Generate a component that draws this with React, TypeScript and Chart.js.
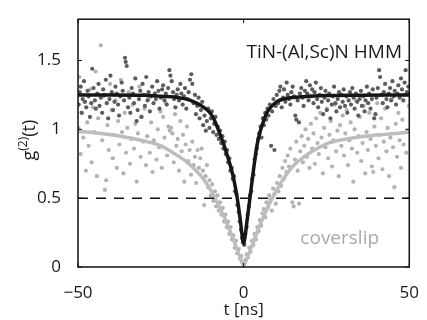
import React, { useEffect, useRef } from "react";
import { Chart, registerables } from "chart.js";

Chart.register(...registerables);

const xTickValues = [-50, 0, 50];
const yTickValues = [0, 0.5, 1, 1.5];
const dashLevel = 0.5;

const hmmLabel = "TiN-(Al,Sc)N HMM";
const slipLabel = "coverslip";
const xTitle = "t [ns]";
const yTitleParts = ["g", "(2)", "(t)"];

// dark grey measurement points (TiN-(Al,Sc)N HMM)
const tinPoints: [number, number][] = [
  [-49.8,1.18],[-49.5,1.27],[-49.2,1.31],[-48.9,1.12],[-48.6,1.22],[-48.2,1.35],[-47.9,1.20],[-47.5,1.16],[-47.1,1.28],[-46.8,1.24],[-46.4,1.09],[-46.0,1.19],[-45.7,1.44],[-45.3,1.30],[-44.9,1.21],[-44.6,1.15],[-44.2,1.26],[-43.8,1.33],[-43.5,1.17],[-43.1,1.23],[-42.7,1.12],[-42.4,1.29],[-42.0,1.25],[-41.6,1.36],[-41.3,1.19],[-40.9,1.08],[-40.5,1.22],[-40.2,1.39],[-39.8,1.27],
  [-39.4,1.14],[-39.0,1.20],[-38.7,1.31],[-38.3,1.26],[-37.9,1.18],[-37.6,1.10],[-37.2,1.24],[-36.8,1.34],[-36.5,1.28],[-36.1,1.21],[-35.8,1.52],[-35.6,1.49],[-35.3,1.46],[-34.9,1.16],[-34.5,1.23],[-34.2,1.12],[-33.8,1.30],[-33.4,1.26],[-33.1,1.19],[-32.7,1.37],[-32.3,1.06],[-32.0,1.14],[-31.6,1.22],[-31.2,1.28],[-30.9,1.09],[-30.5,1.33],[-30.1,1.25],
  [-29.8,1.17],[-29.4,1.38],[-29.0,1.21],[-28.7,1.27],[-28.3,1.13],[-27.9,1.24],[-27.6,1.31],[-27.2,1.19],[-26.8,1.26],[-26.5,1.22],[-26.1,1.35],[-25.7,1.28],[-25.4,1.15],[-25.0,1.23],[-24.6,1.29],[-24.3,1.32],[-23.9,1.21],[-23.5,1.26],[-23.2,1.18],[-22.8,1.30],[-22.4,1.43],[-22.1,1.39],[-21.7,1.35],[-21.3,1.27],[-21.0,1.22],[-20.6,1.16],[-20.2,1.25],
  [-19.9,1.29],[-19.5,1.21],[-19.1,1.33],[-18.8,1.26],[-18.4,1.18],[-18.0,1.24],[-17.7,1.30],[-17.3,1.15],[-16.9,1.22],[-16.6,1.27],[-16.2,1.36],[-15.8,1.40],[-15.5,1.33],[-15.1,1.19],[-14.7,1.25],[-14.4,1.11],[-14.0,1.17],[-13.6,1.23],[-13.3,1.08],[-12.9,1.14],[-12.5,1.20],[-12.2,1.03],[-11.8,1.10],[-11.4,0.99],[-11.1,1.06],[-10.7,1.15],[-10.3,1.01],
  [-9.9,1.08],[-9.6,1.13],[-9.2,0.98],[-8.9,1.04],[-8.5,1.09],[-8.2,0.96],[-7.8,1.02],[-7.5,0.93],[-7.1,0.99],[-6.8,0.90],[-6.4,0.95],[-6.1,0.86],[-5.7,0.91],[-5.4,0.82],[-5.0,0.85],[-4.7,0.76],[-4.3,0.79],[-4.0,0.70],[-3.6,0.72],[-3.3,0.64],[-2.9,0.66],[-2.6,0.55],[-2.2,0.53],[-1.9,0.45],[-1.5,0.40],[-1.2,0.33],[-0.8,0.27],[-0.5,0.21],[-0.2,0.18],
  [0.2,0.16],[0.5,0.24],[0.9,0.29],[1.2,0.38],[1.6,0.44],[1.9,0.52],[2.3,0.55],[2.6,0.64],[3.0,0.67],[3.3,0.78],[3.7,0.82],[4.0,0.86],[4.4,0.93],[4.7,0.97],[5.1,1.02],[5.4,0.94],[5.8,1.08],[6.1,1.03],[6.5,1.12],[6.8,1.07],[7.2,1.15],[7.5,1.10],[7.9,1.18],[8.3,0.88],[8.6,1.13],[9.0,1.22],[9.3,0.85],[9.7,1.17],
  [10.0,1.25],[10.4,1.19],[10.8,1.28],[11.1,1.31],[11.5,1.16],[11.9,1.23],[12.2,1.29],[12.6,1.20],[13.0,1.34],[13.3,1.25],[13.7,1.22],[14.1,1.18],[14.4,1.27],[14.8,1.31],[15.2,1.24],[15.6,1.10],[15.9,1.07],[16.3,1.21],[16.7,1.05],[17.0,1.26],[17.4,1.30],[17.8,1.23],[18.1,1.17],[18.5,1.28],[18.9,1.35],[19.2,1.26],[19.6,1.21],
  [20.0,1.32],[20.3,1.24],[20.7,1.29],[21.1,1.19],[21.4,1.27],[21.8,1.34],[22.2,1.22],[22.5,1.16],[22.9,1.25],[23.3,1.30],[23.6,1.20],[24.0,1.11],[24.4,1.23],[24.7,1.28],[25.1,1.14],[25.5,1.21],[25.8,1.26],[26.2,1.08],[26.6,1.18],[26.9,1.24],[27.3,1.31],[27.7,1.19],[28.0,1.13],[28.4,1.22],[28.8,1.27],[29.1,1.16],[29.5,1.25],
  [29.9,1.20],[30.2,1.29],[30.6,1.17],[31.0,1.24],[31.3,1.12],[31.7,1.21],[32.1,1.27],[32.4,1.18],[32.8,1.30],[33.2,1.23],[33.5,1.15],[33.9,1.26],[34.3,1.20],[34.6,1.10],[35.0,1.22],[35.4,1.28],[35.7,1.17],[36.1,1.24],[36.5,1.13],[36.8,1.21],[37.2,1.31],[37.6,1.19],[37.9,1.26],[38.3,1.15],[38.7,1.22],[39.0,1.29],[39.4,1.08],[39.8,1.11],
  [40.1,1.23],[40.5,1.30],[40.9,1.43],[41.2,1.38],[41.6,1.25],[42.0,1.19],[42.3,1.27],[42.7,1.33],[43.1,1.22],[43.4,1.16],[43.8,1.26],[44.2,1.30],[44.5,1.21],[44.9,1.35],[45.3,1.24],[45.6,1.28],[46.0,1.18],[46.4,1.26],[46.7,1.32],[47.1,1.23],[47.5,1.37],[47.8,1.29],[48.2,1.21],[48.6,1.34],[48.9,1.43],[49.3,1.27],[49.7,1.31],
];

// light grey measurement points (coverslip)
const slipPoints: [number, number][] = [
  [-49.9,1.01],[-49.6,1.38],[-49.2,0.82],[-48.8,1.12],[-48.4,0.94],[-48.0,1.20],[-47.6,0.70],[-47.2,1.05],[-46.8,0.88],[-46.3,1.29],[-45.9,0.76],[-45.5,1.16],[-45.1,0.98],[-44.7,1.42],[-44.3,0.66],[-43.9,1.08],[-43.1,1.61],[-42.7,0.92],[-42.3,1.24],[-41.9,0.56],[-41.5,0.63],[-41.1,1.03],[-40.7,0.85],[-40.3,1.33],
  [-39.9,1.14],[-39.5,0.79],[-39.1,0.96],[-38.7,1.21],[-38.3,0.72],[-37.9,1.06],[-37.5,0.89],[-37.1,1.36],[-36.7,0.98],[-36.3,0.68],[-35.9,1.12],[-35.5,0.83],[-35.1,1.01],[-34.7,1.27],[-34.3,0.75],[-33.9,0.93],[-33.5,1.18],[-33.1,0.86],[-32.7,1.04],[-32.3,0.62],[-31.9,0.97],[-31.5,1.31],[-31.1,0.80],[-30.7,1.09],[-30.3,0.91],
  [-29.9,1.15],[-29.5,0.74],[-29.1,0.95],[-28.7,1.22],[-28.3,0.83],[-27.9,1.05],[-27.5,0.69],[-27.1,0.92],[-26.7,1.26],[-26.3,0.78],[-25.9,1.00],[-25.5,0.87],[-25.1,1.13],[-24.7,0.72],[-24.3,1.09],[-23.9,0.94],[-23.5,1.19],[-23.1,0.81],[-22.7,1.02],[-22.3,0.99],[-21.9,1.01],[-21.5,0.97],[-21.1,0.76],[-20.7,1.11],[-20.3,0.88],
  [-19.9,0.93],[-19.5,0.70],[-19.1,1.06],[-18.7,0.84],[-18.3,0.96],[-17.9,0.62],[-17.5,0.89],[-17.1,1.02],[-16.7,0.77],[-16.3,0.85],[-15.9,0.67],[-15.5,0.91],[-15.1,0.74],[-14.7,0.80],[-14.3,0.61],[-13.9,0.85],[-13.5,0.72],[-13.1,0.79],[-12.7,0.86],[-12.3,0.70],[-11.9,0.45],[-11.5,0.66],[-11.1,0.74],[-10.7,0.58],[-10.3,0.63],
  [-9.9,0.52],[-9.5,0.60],[-9.1,0.48],[-8.7,0.55],[-8.3,0.44],[-7.9,0.52],[-7.5,0.41],[-7.1,0.47],[-6.7,0.38],[-6.3,0.43],[-5.9,0.33],[-5.5,0.38],[-5.1,0.29],[-4.7,0.33],[-4.3,0.24],[-3.9,0.29],[-3.5,0.20],[-3.1,0.23],[-2.7,0.14],[-2.3,0.19],[-1.9,0.10],[-1.5,0.13],[-1.1,0.06],[-0.7,0.08],[-0.3,0.03],
  [0.1,0.02],[0.5,0.05],[0.9,0.09],[1.3,0.07],[1.7,0.14],[2.1,0.11],[2.5,0.19],[2.9,0.16],[3.3,0.24],[3.7,0.20],[4.1,0.29],[4.5,0.26],[4.9,0.34],[5.3,0.30],[5.7,0.39],[6.1,0.42],[6.5,0.36],[6.9,0.47],[7.3,0.43],[7.7,0.52],[8.1,0.49],[8.5,0.41],[8.9,0.57],[9.3,0.53],[9.7,0.46],
  [10.1,0.61],[10.5,0.55],[10.9,0.66],[11.3,0.59],[11.7,0.72],[12.1,0.64],[12.5,0.77],[12.9,0.69],[13.3,0.81],[13.7,0.73],[14.1,0.86],[14.7,0.47],[15.1,0.44],[15.5,0.78],[15.9,0.91],[16.3,0.70],[16.7,0.46],[17.1,0.84],[17.5,0.95],[17.9,0.76],[18.3,0.88],[18.7,1.00],[19.1,0.80],[19.5,0.93],[19.9,0.72],
  [20.3,1.04],[20.7,0.86],[21.1,0.97],[21.5,0.75],[21.9,1.08],[22.3,0.90],[22.7,0.82],[23.1,1.12],[23.5,0.94],[23.9,0.68],[24.3,1.01],[24.7,0.87],[25.1,1.15],[25.5,0.79],[25.9,0.96],[26.3,1.06],[26.7,0.73],[27.1,0.92],[27.5,1.18],[27.9,0.84],[28.3,0.99],[28.7,0.66],[29.1,1.03],[29.5,0.88],[29.9,1.10],
  [30.3,0.81],[30.7,0.97],[31.1,1.14],[31.5,0.74],[31.9,0.92],[32.3,1.05],[32.7,0.86],[33.1,0.62],[33.5,1.00],[33.9,1.21],[34.3,0.83],[34.7,0.95],[35.1,1.09],[35.5,0.77],[35.9,0.90],[36.3,1.17],[36.7,0.68],[37.1,0.98],[37.5,0.85],[37.9,1.12],[38.3,0.93],[38.7,0.73],[39.1,0.69],[39.5,1.02],[39.9,0.88],
  [40.3,1.19],[40.7,0.79],[41.1,0.96],[41.5,1.08],[41.9,0.71],[42.3,0.91],[42.7,1.15],[43.1,0.84],[43.5,1.01],[43.9,0.66],[44.3,0.94],[44.7,1.22],[45.1,0.87],[45.5,0.58],[45.9,1.04],[46.3,0.80],[46.7,1.12],[47.1,0.92],[47.5,0.72],[47.9,1.07],[48.3,0.89],[48.7,1.25],[49.1,0.83],[49.5,0.99],[49.9,1.17],
];

// fitted curves
const tinFitT = [-50, -40, -30, -25, -20, -17, -15, -13, -11, -10, -9, -8, -7, -6, -5, -4, -3, -2, -1, -0.3, 0, 0.3, 1, 2, 3, 4, 5, 6, 7, 8, 9, 10, 12, 15, 20, 25, 35, 50];
const tinFitG = [1.25, 1.25, 1.248, 1.24, 1.232, 1.218, 1.2, 1.175, 1.14, 1.115, 1.075, 1.02, 0.955, 0.89, 0.815, 0.735, 0.64, 0.51, 0.34, 0.2, 0.17, 0.2, 0.33, 0.52, 0.71, 0.88, 0.985, 1.06, 1.12, 1.155, 1.18, 1.2, 1.22, 1.232, 1.24, 1.245, 1.248, 1.25];

const slipFitT = [-50, -45, -40, -35, -30, -25, -20, -17, -15, -12, -10, -8, -6, -4, -2, -1, 0, 1, 2, 4, 6, 8, 10, 12, 15, 20, 25, 30, 35, 40, 45, 50];
const slipFitG = [0.985, 0.975, 0.96, 0.94, 0.915, 0.88, 0.81, 0.76, 0.715, 0.635, 0.56, 0.47, 0.37, 0.255, 0.13, 0.065, 0.01, 0.065, 0.125, 0.25, 0.365, 0.47, 0.56, 0.64, 0.735, 0.83, 0.895, 0.925, 0.945, 0.958, 0.968, 0.98];

const FONT = "'Open Sans', 'DejaVu Sans', sans-serif";
const INK = "#1a1a1a";

const frame = {
  id: "frame",
  afterDatasetsDraw(chart: any) {
    const { ctx, chartArea: a, scales } = chart;
    const xs = scales.x;
    const ys = scales.y;
    ctx.save();
    ctx.strokeStyle = "#111";
    ctx.lineWidth = 1.5;
    ctx.strokeRect(a.left, a.top, a.right - a.left, a.bottom - a.top);
    ctx.lineWidth = 1;
    const L = 4;
    ctx.beginPath();
    for (const v of xTickValues) {
      const px = xs.getPixelForValue(v);
      ctx.moveTo(px, a.bottom);
      ctx.lineTo(px, a.bottom - L);
      ctx.moveTo(px, a.top);
      ctx.lineTo(px, a.top + L);
    }
    for (const v of yTickValues) {
      const py = ys.getPixelForValue(v);
      ctx.moveTo(a.left, py);
      ctx.lineTo(a.left + L, py);
      ctx.moveTo(a.right, py);
      ctx.lineTo(a.right - L, py);
    }
    ctx.stroke();

    ctx.font = `19px ${FONT}`;
    ctx.textBaseline = "alphabetic";
    ctx.fillStyle = INK;
    ctx.textAlign = "right";
    ctx.fillText(hmmLabel, xs.getPixelForValue(47.8), ys.getPixelForValue(1.52));
    ctx.fillStyle = "#aaaaaa";
    ctx.textAlign = "center";
    ctx.fillText(slipLabel, xs.getPixelForValue(29), ys.getPixelForValue(0.17));

    // y axis title with superscript
    const cy = (a.top + a.bottom) / 2 - 3;
    ctx.translate(35, cy);
    ctx.rotate(-Math.PI / 2);
    ctx.fillStyle = INK;
    ctx.textAlign = "left";
    const big = `18px ${FONT}`;
    const small = `12px ${FONT}`;
    ctx.font = big;
    const w0 = ctx.measureText(yTitleParts[0]).width;
    const w2 = ctx.measureText(yTitleParts[2]).width;
    ctx.font = small;
    const w1 = ctx.measureText(yTitleParts[1]).width;
    let x0 = -(w0 + w1 + w2) / 2;
    ctx.font = big;
    ctx.fillText(yTitleParts[0], x0, 0);
    x0 += w0;
    ctx.font = small;
    ctx.fillText(yTitleParts[1], x0, -8);
    x0 += w1;
    ctx.font = big;
    ctx.fillText(yTitleParts[2], x0, 0);
    ctx.restore();
  },
};

export default function App() {
  const ref = useRef<HTMLCanvasElement | null>(null);
  useEffect(() => {
    if (!ref.current) return;
    const chart = new Chart(ref.current, {
      type: "scatter",
      data: {
        datasets: [
          {
            label: "coverslip fit",
            data: slipFitT.map((t, i) => ({ x: t, y: slipFitG[i] })),
            showLine: true,
            borderColor: "#bdbdbd",
            borderWidth: 3.5,
            pointRadius: 0,
            cubicInterpolationMode: "monotone",
            order: 3,
          },
          {
            label: "coverslip",
            data: slipPoints.map(([x, y]) => ({ x, y })),
            backgroundColor: "#b3b3b3",
            borderWidth: 0,
            pointRadius: 2.1,
            order: 5,
          },
          {
            label: "HMM",
            data: tinPoints.map(([x, y]) => ({ x, y })),
            backgroundColor: "#5c5c5c",
            borderWidth: 0,
            pointRadius: 2.1,
            order: 4,
          },
          {
            label: "HMM fit",
            data: tinFitT.map((t, i) => ({ x: t, y: tinFitG[i] })),
            showLine: true,
            borderColor: "#161616",
            borderWidth: 3.5,
            pointRadius: 0,
            cubicInterpolationMode: "monotone",
            order: 1,
          },
          {
            label: "level",
            data: [
              { x: xTickValues[0], y: dashLevel },
              { x: xTickValues[xTickValues.length - 1], y: dashLevel },
            ],
            showLine: true,
            borderColor: "#111",
            borderWidth: 1.5,
            borderDash: [10, 8],
            pointRadius: 0,
            order: 2,
          },
        ],
      },
      options: {
        animation: false,
        responsive: true,
        maintainAspectRatio: false,
        layout: { padding: { left: 0, right: 9, top: 4, bottom: 0 } },
        plugins: { legend: { display: false }, tooltip: { enabled: false } },
        scales: {
          x: {
            type: "linear",
            min: -50,
            max: 50,
            afterBuildTicks: (s: any) => {
              s.ticks = xTickValues.map((v) => ({ value: v }));
            },
            afterFit: (s: any) => {
              s.height = 53;
            },
            grid: { display: false },
            border: { display: false },
            ticks: {
              color: INK,
              font: { family: FONT, size: 17 },
              padding: 8,
              maxRotation: 0,
              callback: (v: any) => (v < 0 ? "\u2212" + Math.abs(v) : String(v)),
            },
            title: {
              display: true,
              text: xTitle,
              color: INK,
              font: { family: FONT, size: 17 },
              padding: { top: 6, bottom: 0 },
            },
          },
          y: {
            type: "linear",
            min: 0,
            max: 1.8,
            afterBuildTicks: (s: any) => {
              s.ticks = yTickValues.map((v) => ({ value: v }));
            },
            afterFit: (s: any) => {
              s.width = 78;
            },
            grid: { display: false },
            border: { display: false },
            ticks: {
              color: INK,
              font: { family: FONT, size: 17 },
              padding: 9,
              callback: (v: any) => String(v),
            },
            title: { display: false },
          },
        },
      },
      plugins: [frame],
    } as any);
    return () => chart.destroy();
  }, []);
  return (
    <div style={{ position: "fixed", left: 0, top: 0, width: 427, height: 320, background: "#fff" }}>
      <canvas ref={ref} />
    </div>
  );
}
